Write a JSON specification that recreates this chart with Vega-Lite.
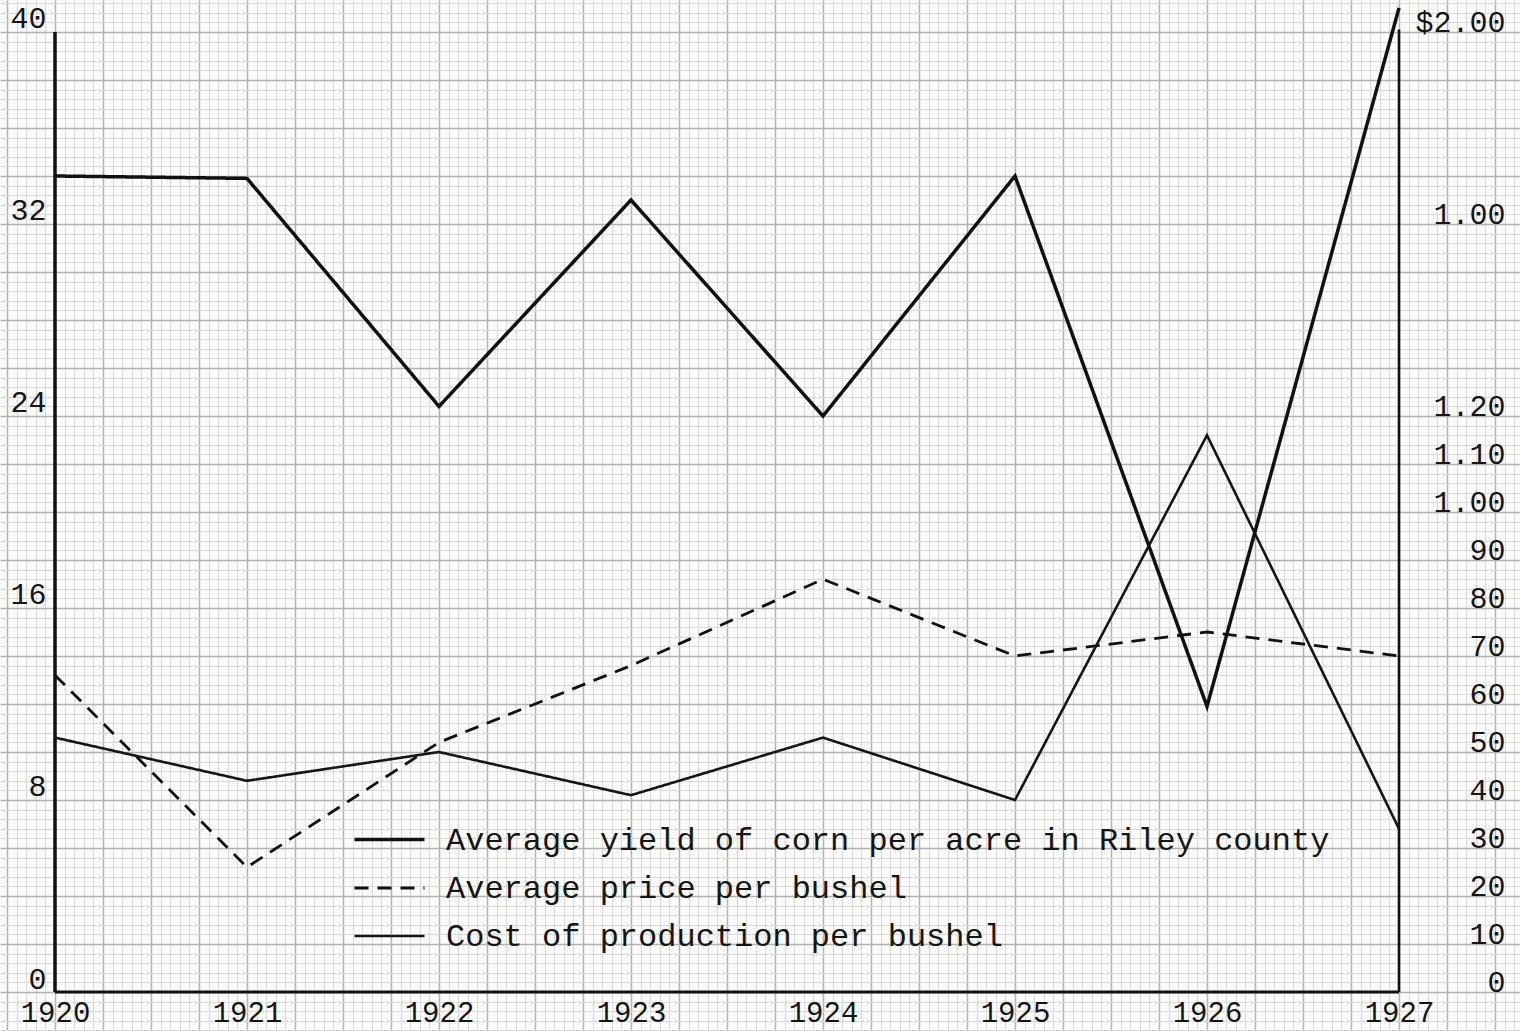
{
  "$schema": "https://vega.github.io/schema/vega-lite/v6.json",
  "width": 1520,
  "height": 1031,
  "autosize": {"type": "none"},
  "padding": 0,
  "background": "#fbfbfa",
  "config": {
    "view": {"stroke": null},
    "axis": {"labelFont": "Liberation Mono", "labelFontSize": 30, "labelColor": "#151515", "title": null, "ticks": false, "domain": false}
  },
  "datasets": {
    "yield": [
      {"year": 1920, "series": "Average yield of corn per acre in Riley county", "bushels": 34},
      {"year": 1921, "series": "Average yield of corn per acre in Riley county", "bushels": 33.9},
      {"year": 1922, "series": "Average yield of corn per acre in Riley county", "bushels": 24.4},
      {"year": 1923, "series": "Average yield of corn per acre in Riley county", "bushels": 33},
      {"year": 1924, "series": "Average yield of corn per acre in Riley county", "bushels": 24},
      {"year": 1925, "series": "Average yield of corn per acre in Riley county", "bushels": 34},
      {"year": 1926, "series": "Average yield of corn per acre in Riley county", "bushels": 11.9},
      {"year": 1927, "series": "Average yield of corn per acre in Riley county", "bushels": 41}
    ],
    "prices": [
      {"year": 1920, "series": "Average price per bushel", "cents": 66},
      {"year": 1921, "series": "Average price per bushel", "cents": 26},
      {"year": 1922, "series": "Average price per bushel", "cents": 52},
      {"year": 1923, "series": "Average price per bushel", "cents": 68},
      {"year": 1924, "series": "Average price per bushel", "cents": 86},
      {"year": 1925, "series": "Average price per bushel", "cents": 70},
      {"year": 1926, "series": "Average price per bushel", "cents": 75},
      {"year": 1927, "series": "Average price per bushel", "cents": 70},
      {"year": 1920, "series": "Cost of production per bushel", "cents": 53},
      {"year": 1921, "series": "Cost of production per bushel", "cents": 44},
      {"year": 1922, "series": "Cost of production per bushel", "cents": 50},
      {"year": 1923, "series": "Cost of production per bushel", "cents": 41},
      {"year": 1924, "series": "Cost of production per bushel", "cents": 53},
      {"year": 1925, "series": "Cost of production per bushel", "cents": 40},
      {"year": 1926, "series": "Cost of production per bushel", "cents": 116},
      {"year": 1927, "series": "Cost of production per bushel", "cents": 34}
    ]
  },
  "resolve": {"scale": {"y": "independent"}, "axis": {"x": "independent", "y": "independent"}},
  "layer": [
    {
      "data": {"name": "prices"},
      "mark": {"type": "point", "opacity": 0},
      "encoding": {
        "x": {"field": "year", "type": "quantitative", "scale": {"domain": [1919.71354, 1927.63021], "nice": false, "zero": false},
          "axis": {"orient": "bottom", "grid": true, "gridColor": "#dadada", "gridWidth": 1, "tickCount": 158, "labels": false}},
        "y": {"field": "cents", "type": "quantitative", "scale": {"domain": [-8.125, 206.6667], "nice": false, "zero": false},
          "axis": {"orient": "left", "grid": true, "gridColor": "#dadada", "gridWidth": 1, "tickCount": 107, "labels": false}}
      }
    },
    {
      "data": {"name": "prices"},
      "mark": {"type": "point", "opacity": 0},
      "encoding": {
        "x": {"field": "year", "type": "quantitative", "scale": {"domain": [1919.71354, 1927.63021], "nice": false, "zero": false},
          "axis": {"orient": "bottom", "grid": true, "gridColor": "#b2b2b2", "gridWidth": 1.5, "labels": false,
            "values": [1919.75,1920,1920.25,1920.5,1920.75,1921,1921.25,1921.5,1921.75,1922,1922.25,1922.5,1922.75,1923,1923.25,1923.5,1923.75,1924,1924.25,1924.5,1924.75,1925,1925.25,1925.5,1925.75,1926,1926.25,1926.5,1926.75,1927,1927.25,1927.5]}},
        "y": {"field": "cents", "type": "quantitative", "scale": {"domain": [-8.125, 206.6667], "nice": false, "zero": false},
          "axis": {"orient": "left", "grid": true, "gridColor": "#b2b2b2", "gridWidth": 1.5, "tickCount": 22, "labels": false}}
      }
    },
    {
      "data": {"values": [{}]},
      "mark": {"type": "rule", "color": "#111", "strokeWidth": 3.5},
      "encoding": {
        "x": {"datum": 1920, "type": "quantitative", "scale": {"domain": [1919.71354, 1927.63021], "nice": false, "zero": false}, "axis": null},
        "y": {"datum": 0, "type": "quantitative", "scale": {"domain": [-1.625, 41.3333], "nice": false, "zero": false}, "axis": null},
        "y2": {"datum": 40}
      }
    },
    {
      "data": {"values": [{}]},
      "mark": {"type": "rule", "color": "#111", "strokeWidth": 3},
      "encoding": {
        "x": {"datum": 1920, "type": "quantitative", "scale": {"domain": [1919.71354, 1927.63021], "nice": false, "zero": false}, "axis": null},
        "x2": {"datum": 1927},
        "y": {"datum": 0, "type": "quantitative", "scale": {"domain": [-1.625, 41.3333], "nice": false, "zero": false}, "axis": null}
      }
    },
    {
      "data": {"values": [{}]},
      "mark": {"type": "rule", "color": "#111", "strokeWidth": 2.6},
      "encoding": {
        "x": {"datum": 1927, "type": "quantitative", "scale": {"domain": [1919.71354, 1927.63021], "nice": false, "zero": false}, "axis": null},
        "y": {"datum": 0, "type": "quantitative", "scale": {"domain": [-1.625, 41.3333], "nice": false, "zero": false}, "axis": null},
        "y2": {"datum": 40.1}
      }
    },
    {
      "data": {"name": "prices"},
      "mark": {"type": "line"},
      "encoding": {
        "x": {"field": "year", "type": "quantitative", "scale": {"domain": [1919.71354, 1927.63021], "nice": false, "zero": false}, "axis": null},
        "y": {"field": "cents", "type": "quantitative", "scale": {"domain": [-8.125, 206.6667], "nice": false, "zero": false},
          "axis": {"orient": "right", "offset": -121, "labelAlign": "right", "labelPadding": 106, "labelBaseline": "alphabetic", "labelOffset": -1,
            "values": [0,10,20,30,40,50,60,70,80,90,100,110,120,160,200],
            "labelExpr": "datum.value == 200 ? '$2.00' : datum.value == 160 ? '1.00' : datum.value >= 100 ? format(datum.value/100, '.2f') : format(datum.value, 'd')"}},
        "color": {"field": "series", "type": "nominal",
          "scale": {"domain": ["Average yield of corn per acre in Riley county", "Average price per bushel", "Cost of production per bushel"], "range": ["#111111", "#111111", "#151515"]},
          "legend": {"orient": "none", "legendX": 370, "legendY": 820, "title": null, "symbolType": "M-2,0H2", "symbolSize": 1225,
            "labelFont": "Liberation Mono", "labelFontSize": 32, "labelColor": "#151515", "labelOffset": 37, "rowPadding": 13, "padding": 0, "labelLimit": 0}},
        "strokeDash": {"field": "series", "type": "nominal",
          "scale": {"domain": ["Average yield of corn per acre in Riley county", "Average price per bushel", "Cost of production per bushel"], "range": [[1, 0], [14, 9], [1, 0]]}},
        "strokeWidth": {"field": "series", "type": "nominal",
          "scale": {"type": "ordinal", "domain": ["Average yield of corn per acre in Riley county", "Average price per bushel", "Cost of production per bushel"], "range": [3.5, 2.8, 2.6]}}
      }
    },
    {
      "data": {"name": "yield"},
      "mark": {"type": "line"},
      "encoding": {
        "x": {"field": "year", "type": "quantitative", "scale": {"domain": [1919.71354, 1927.63021], "nice": false, "zero": false},
          "axis": {"orient": "bottom", "offset": -39, "values": [1920,1921,1922,1923,1924,1925,1926,1927], "format": "d", "labelPadding": 6, "labelBaseline": "top", "labelFontSize": 29}},
        "y": {"field": "bushels", "type": "quantitative", "scale": {"domain": [-1.625, 41.3333], "nice": false, "zero": false},
          "axis": {"orient": "left", "offset": -55, "values": [0,8,16,24,32,40], "labelPadding": 9, "labelBaseline": "alphabetic", "labelOffset": -4}},
        "color": {"field": "series", "type": "nominal",
          "scale": {"domain": ["Average yield of corn per acre in Riley county", "Average price per bushel", "Cost of production per bushel"], "range": ["#111111", "#111111", "#151515"]},
          "legend": {"orient": "none", "legendX": 370, "legendY": 820, "title": null, "symbolType": "M-2,0H2", "symbolSize": 1225,
            "labelFont": "Liberation Mono", "labelFontSize": 32, "labelColor": "#151515", "labelOffset": 37, "rowPadding": 13, "padding": 0, "labelLimit": 0}},
        "strokeDash": {"field": "series", "type": "nominal",
          "scale": {"domain": ["Average yield of corn per acre in Riley county", "Average price per bushel", "Cost of production per bushel"], "range": [[1, 0], [14, 9], [1, 0]]}},
        "strokeWidth": {"field": "series", "type": "nominal",
          "scale": {"type": "ordinal", "domain": ["Average yield of corn per acre in Riley county", "Average price per bushel", "Cost of production per bushel"], "range": [3.5, 2.8, 2.6]}}
      }
    }
  ]
}
